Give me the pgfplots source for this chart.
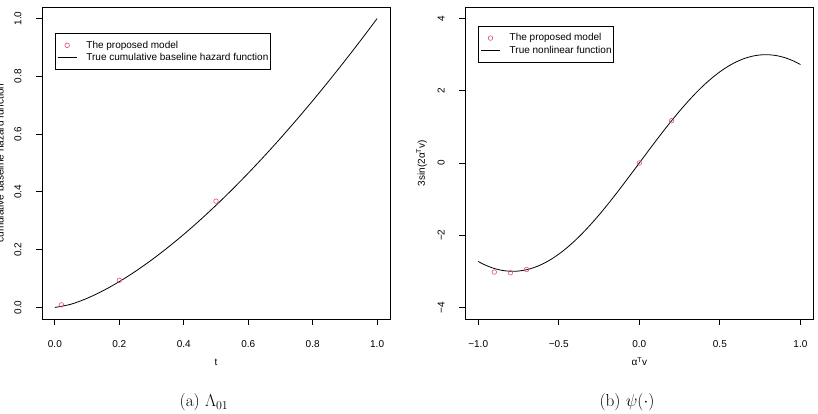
\documentclass[border=0pt]{standalone}
\usepackage[no-math]{fontspec}
\setmainfont{Liberation Sans}
\newfontfamily\lmr{Latin Modern Roman}
\usepackage{pgfplots}
\pgfplotsset{compat=1.18}
\definecolor{rred}{HTML}{DF536B}
\pgfplotsset{rstyle/.style={
  scale only axis, width=348pt, height=312pt,
  axis line style={line width=0.8pt, black},
  tick pos=left, tick align=outside, major tick length=6pt,
  tick style={line width=0.8pt, black},
  every tick label/.append style={font=\fontsize{10}{12}\selectfont, inner sep=0pt},
  xticklabel style={anchor=north, text height=7.2pt, text depth=0pt},
  xticklabel shift=15.4pt,
  yticklabel style={rotate=90, anchor=south, text height=7.2pt, text depth=0pt},
  yticklabel shift=14.4pt,
  label style={font=\fontsize{10}{12}\selectfont, inner sep=0pt},
  legend style={anchor=north west, draw=black, line width=0.8pt, fill=white,
    inner xsep=2pt, inner ysep=7.2pt, font=\fontsize{10}{12}\selectfont,
    nodes={inner sep=0pt, text height=7.5pt, text depth=2pt},
    row sep=2.8pt, column sep=9.3pt, cells={anchor=west}},
  legend image code/.code={\draw[mark repeat=2,mark phase=2,##1] plot coordinates {(0pt,0pt) (9.5pt,0pt) (19pt,0pt)};},
}}
\begin{document}
\begin{tikzpicture}
\begin{axis}[rstyle, at={(42pt,95pt)}, anchor=south west,
  xmin=-0.04, xmax=1.04, ymin=-0.04, ymax=1.04,
  xtick={0,0.2,0.4,0.6,0.8,1.0}, xticklabels={0.0,0.2,0.4,0.6,0.8,1.0},
  ytick={0,0.2,0.4,0.6,0.8,1.0}, yticklabels={0.0,0.2,0.4,0.6,0.8,1.0},
  xlabel={t}, ylabel={cumulative baseline hazard function},
  xlabel style={at={([yshift=-46.7pt]axis description cs:0.5,0)}, anchor=base},
  ylabel style={at={([xshift=-38.5pt]axis description cs:0,0.5)}, anchor=base},
  legend style={at={(axis cs:0,0.95)}},
]
\addplot[only marks, mark=o, mark size=2.3pt, rred, line width=0.6pt] coordinates {(0.02,0.009) (0.2,0.094) (0.5,0.368)};
\addlegendentry{The proposed model}
\addplot[black, line width=0.8pt, smooth] coordinates {
(0,0) (0.05,0.011180) (0.1,0.031623) (0.15,0.058095) (0.2,0.089443) (0.25,0.125)
(0.3,0.164317) (0.35,0.207063) (0.4,0.252982) (0.45,0.301869) (0.5,0.353553)
(0.55,0.407891) (0.6,0.464758) (0.65,0.524047) (0.7,0.585662) (0.75,0.649519)
(0.8,0.715542) (0.85,0.783661) (0.9,0.853815) (0.95,0.925945) (1.0,1.0)};
\addlegendentry{True cumulative baseline hazard function\hspace{2.5pt}}
\end{axis}
\begin{axis}[rstyle, at={(465.3pt,95pt)}, anchor=south west,
  xmin=-1.08, xmax=1.08, ymin=-4.32, ymax=4.32,
  xtick={-1,-0.5,0,0.5,1}, xticklabels={−1.0,−0.5,0.0,0.5,1.0},
  ytick={-4,-2,0,2,4}, yticklabels={−4,−2,0,2,4},
  xlabel={α\textsuperscript{T}v}, ylabel={3sin(2α\textsuperscript{T}v)},
  xlabel style={at={([yshift=-46.7pt]axis description cs:0.5,0)}, anchor=base},
  ylabel style={at={([xshift=-40.5pt]axis description cs:0,0.5)}, anchor=base},
  legend style={at={(axis cs:-1,3.8)}},
]
\addplot[only marks, mark=o, mark size=2.3pt, rred, line width=0.6pt] coordinates {(-0.9,-3.02) (-0.8,-3.04) (-0.7,-2.95) (0,0) (0.2,1.17)};
\addlegendentry{The proposed model}
\addplot[black, line width=0.8pt, smooth] coordinates {
(-1.0,-2.727892) (-0.95,-2.838900) (-0.9,-2.921544) (-0.85,-2.974995) (-0.8,-2.998721)
(-0.75,-2.992485) (-0.7,-2.956350) (-0.65,-2.890674) (-0.6,-2.796117) (-0.55,-2.673621)
(-0.5,-2.524413) (-0.45,-2.349981) (-0.4,-2.152068) (-0.35,-1.932654) (-0.3,-1.693926)
(-0.25,-1.438277) (-0.2,-1.168255) (-0.15,-0.886560) (-0.1,-0.596008) (-0.05,-0.299500)
(0,0) (0.05,0.299500) (0.1,0.596008) (0.15,0.886560) (0.2,1.168255) (0.25,1.438277)
(0.3,1.693926) (0.35,1.932654) (0.4,2.152068) (0.45,2.349981) (0.5,2.524413)
(0.55,2.673621) (0.6,2.796117) (0.65,2.890674) (0.7,2.956350) (0.75,2.992485)
(0.8,2.998721) (0.85,2.974995) (0.9,2.921544) (0.95,2.838900) (1.0,2.727892)};
\addlegendentry{True nonlinear function\hspace{2.5pt}}
\end{axis}
\node[font=\lmr\LARGE, anchor=base] at (204pt,7.3pt) {(a) $\Lambda_{01}$};
\node[font=\lmr\LARGE, anchor=base] at (627pt,7.3pt) {(b) $\psi(\cdot)$};
\pgfresetboundingbox
\useasboundingbox (0,0) rectangle (818pt,414pt);
\end{tikzpicture}
\end{document}
